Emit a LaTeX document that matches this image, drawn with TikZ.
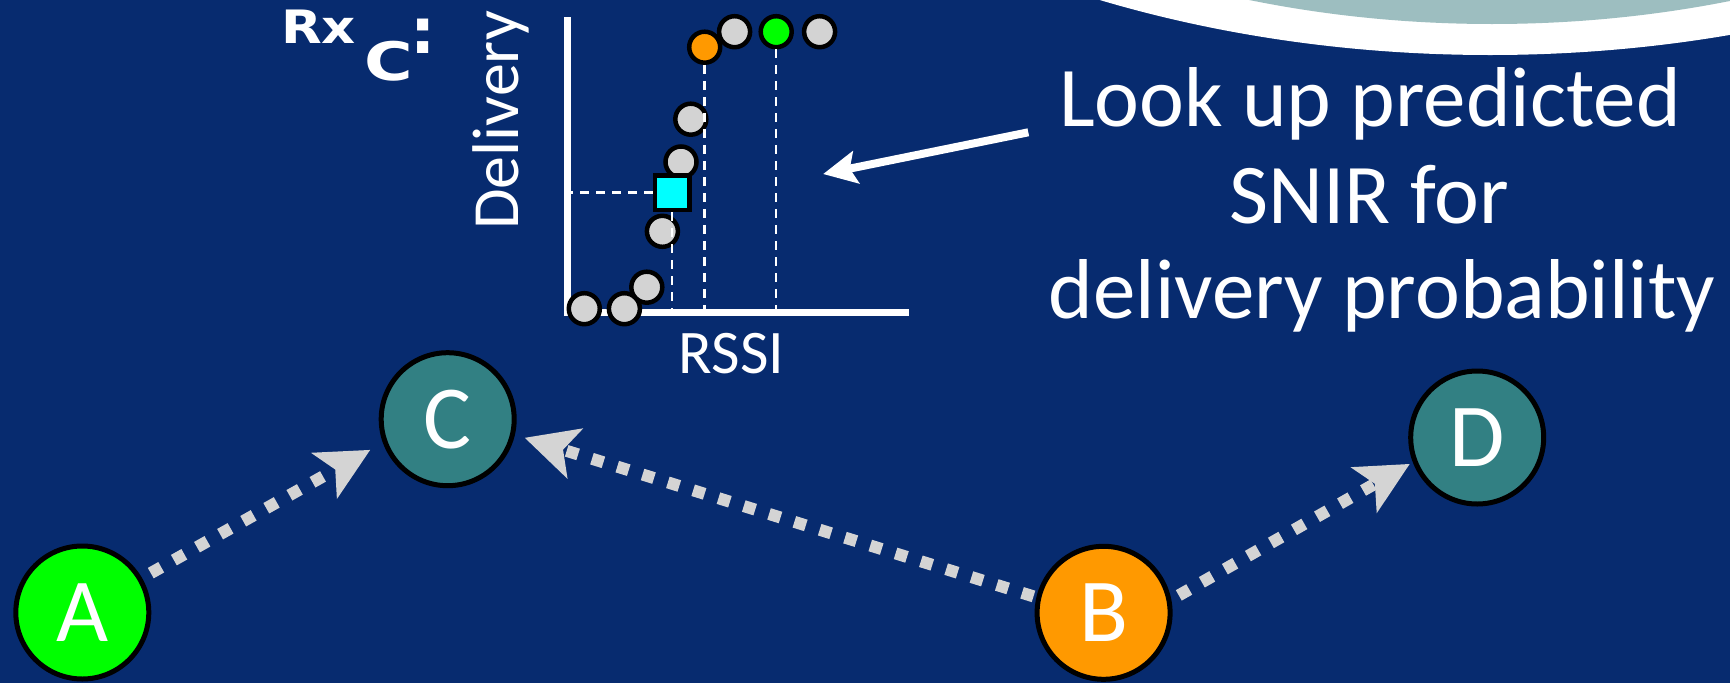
\documentclass[tikz,border=0pt]{standalone}
\usepackage{fontspec}
\setmainfont{Carlito}
\newfontfamily\rxfont{DejaVu Sans Bold}
\usetikzlibrary{arrows.meta}

\definecolor{slidebg}{RGB}{7,43,111}
\definecolor{nodeteal}{RGB}{50,128,131}
\definecolor{capteal}{RGB}{157,190,192}
\definecolor{linkgrey}{RGB}{212,212,212}
\definecolor{dotgrey}{RGB}{211,211,211}
\definecolor{hitgreen}{RGB}{0,255,0}
\definecolor{hitorange}{RGB}{255,153,0}
\definecolor{probecyan}{RGB}{0,255,255}

\tikzset{
  station/.style={circle, draw=black, line width=5pt, minimum size=133pt,
    inner sep=0pt, text=white, font=\fontsize{90}{90}\selectfont},
  sample/.style={circle, draw=black, line width=4.5pt, minimum size=31pt,
    inner sep=0pt, fill=dotgrey},
  probebox/.style={rectangle, draw=black, line width=4.5pt, minimum size=34.5pt,
    inner sep=0pt, fill=probecyan},
  link/.style={draw=linkgrey, line width=12pt, dash pattern=on 12pt off 14.5pt,
    -{Stealth[length=53pt, width=53pt, inset=13pt, line width=0pt]}},
  pointer/.style={draw=white, line width=8pt,
    -{Stealth[length=34pt, width=34pt, inset=7pt, line width=0pt]}},
  guide/.style={draw=white, line width=2.5pt, dash pattern=on 9pt off 7pt},
  plotaxis/.style={draw=white, line width=6.8pt},
  caption/.style={text=white, inner sep=0pt, anchor=base},
  notefont/.style={font=\fontsize{85}{96}\selectfont},
  rxpart/.style={caption, anchor=base west, font=\rxfont\fontsize{#1}{#1}\selectfont},
}

\begin{document}
\begin{tikzpicture}[x=1pt, y=-1pt]
\useasboundingbox (0,0) rectangle (1730,683);
\fill[slidebg] (0,0) rectangle (1730,683);

% corner decoration of the slide
\begin{scope}
  \clip (0,0) rectangle (1730,683);
  \fill[white] (1490,-570) ellipse [x radius=950pt, y radius=625pt];
  \fill[capteal] (1492,-556) ellipse [x radius=850pt, y radius=580pt];
\end{scope}

% delivery vs RSSI plot
\coordinate (O) at (567.4,312.7);
\draw[plotaxis] (567.4,17) -- (O) -- (909,312.7);

\node[sample] (s1) at (584.3,308.7) {};
\node[sample] (s2) at (624.4,308.7) {};
\node[sample] (s3) at (646.8,287.2) {};
\node[sample] (s4) at (662.4,231.3) {};
\node[sample] (s5) at (681.0,162.0) {};
\node[sample] (s6) at (690.8,119.2) {};
\node[sample] (s8) at (734.6,31.7) {};
\node[sample, fill=hitorange] (s7) at (704.7,47.2) {};
\node[sample, fill=hitgreen] (s9) at (776.2,31.7) {};
\node[sample] (s10) at (819.6,31.7) {};

\node[probebox] (probe) at (672,192.5) {};

\draw[guide] (probe.west) -- (probe.west -| O);
\draw[guide] (probe.south) -- (probe.south |- O);
\draw[guide] (s7.south) -- (s7.south |- O);
\draw[guide] (s9.south) -- (s9.south |- O);

\node[caption, rotate=90, anchor=base west, font=\fontsize{66}{66}\selectfont]
  (ylabel) at (518.9,230) {Delivery};
\node[caption, font=\fontsize{62}{62}\selectfont] (xlabel) at (731.4,373.3) {RSSI};

% receiver label: Rx with subscript C
\node[rxpart=46] (rx) at (281,43.3) {\scalebox{1.15}[1]{Rx}};
\node[rxpart=53] (rxsub) at (364.6,80.9) {\scalebox{1.25}[1]{C}};
\node[rxpart=63] (rxcolon) at (410.4,53.3) {:};

% explanation
\node[caption, notefont] (note1) at (1370,126.7) {Look up predicted};
\node[caption, notefont] (note2) at (1369,223.3) {SNIR for};
\node[caption, notefont] (note3) at (1382,318.3) {delivery probability};

\coordinate (noteTail) at (1028.3,132.3);
\coordinate (noteTip) at (823.3,174);
\draw[pointer] (noteTail) -- (noteTip);

% stations
\node[station, fill=hitgreen] (A) at (82.3,612.5) {A};
\node[station, fill=nodeteal] (C) at (447.7,419.2) {C};
\node[station, fill=hitorange] (B) at (1103.6,612.8) {B};
\node[station, fill=nodeteal] (D) at (1477.2,437.5) {D};

\draw[link, shorten <=10pt, shorten >=14.6pt] (A.30) -- (C.200.4);
\draw[link, shorten <=3pt, shorten >=10.4pt] (B.167) -- (C.-13.4);
\draw[link, shorten <=8.6pt, shorten >=3.6pt] (B.11) -- (D.201.7);
\end{tikzpicture}
\end{document}
